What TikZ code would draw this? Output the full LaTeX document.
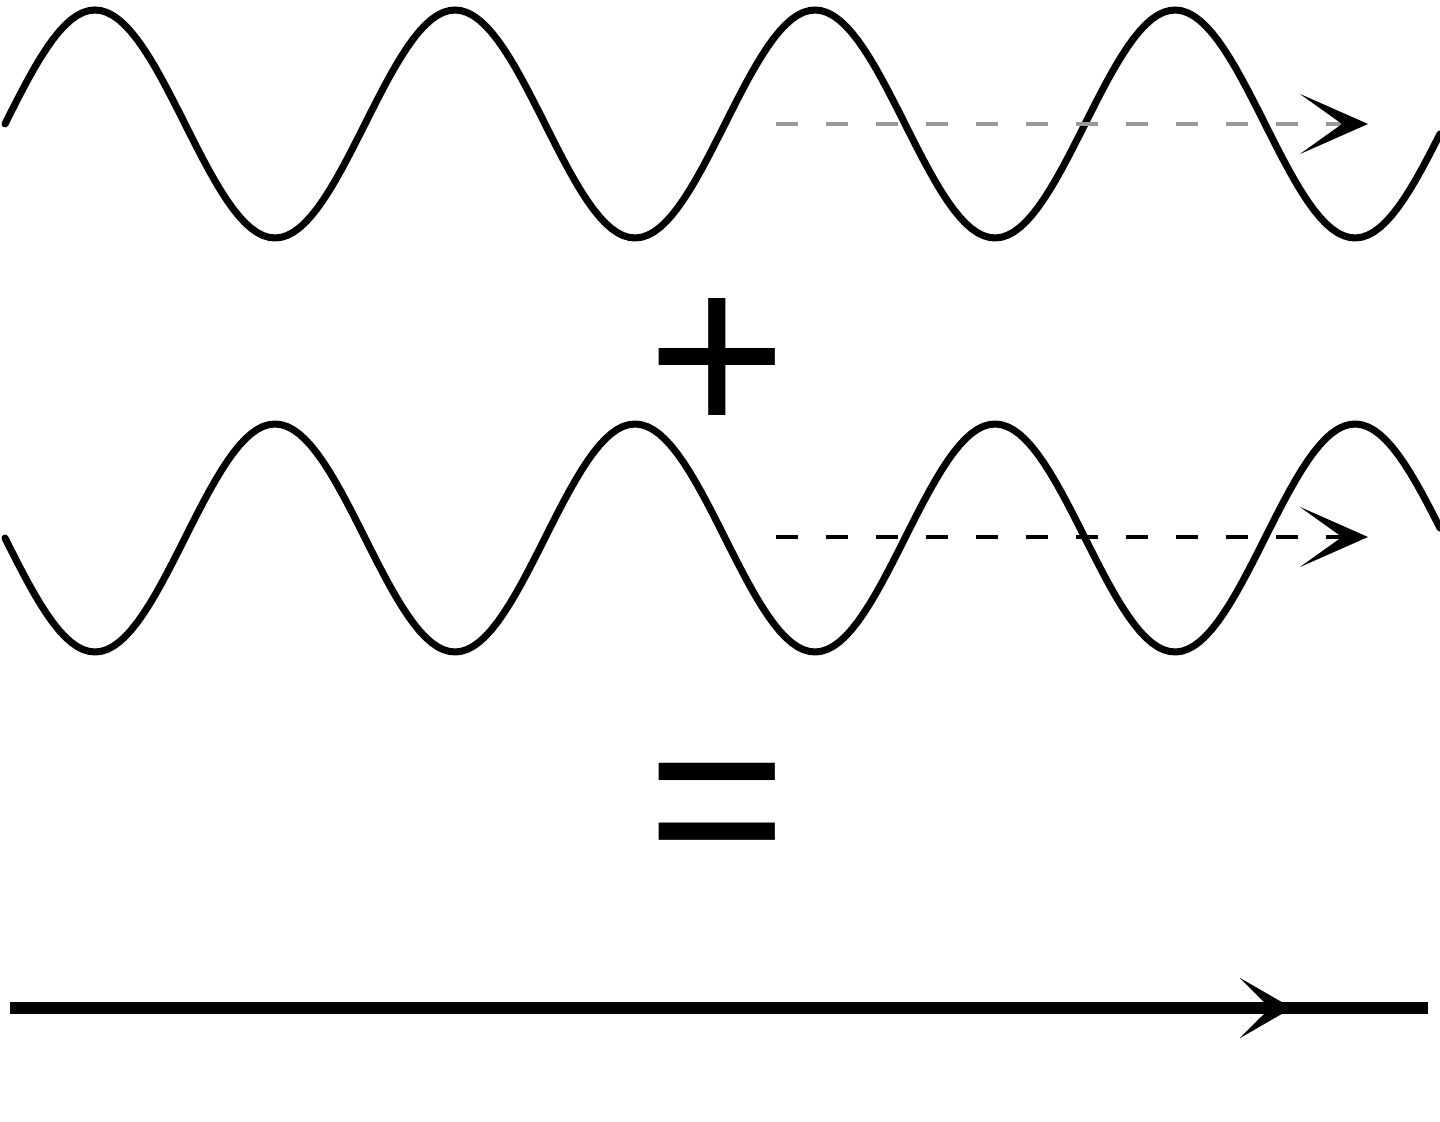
\documentclass[tikz,border=0pt]{standalone}
\usepackage{fontspec}
\setmainfont{Liberation Sans}
\usetikzlibrary{arrows.meta}

\begin{document}
\begin{tikzpicture}
[x=0.01cm,y=-0.01cm,
  waveDecorate/.style={line width=2pt,line join=round,line cap=round},
  flowDecorate/.style={line width=1.4pt,dash pattern=on 0.22cm off 0.28cm,
    -{Stealth[length=0.68cm,width=0.6cm,inset=0.42cm,color=black]}},
  signDecorate/.style={inner sep=0pt,font=\fontsize{68}{68}\selectfont},
  lineDecorate/.style={line width=3.2pt}]
\useasboundingbox (0,0) rectangle (1440,1122);
%% waves
\foreach \yc/\sgn in {124/-1, 538/1}
{
  \draw[waveDecorate] plot[domain=5:1440,samples=240] (\x,{\yc+\sgn*114*sin(\x-5)});
}
%% dashed arrows
\foreach \nodename/\y/\col in {upper/124/black!40, lower/537/black}
{
  \coordinate (\nodename start) at (776,\y);
  \coordinate (\nodename end) at (1368,\y);
  \draw[flowDecorate,\col] (\nodename start) -- (\nodename end);
}
%% signs
\node (plus) at (717,367) [signDecorate] {+};
\node (equals) at (717,822) [signDecorate] {=};
%% bottom arrow
\coordinate (lineStart) at (10,1008);
\coordinate (lineTip) at (1292,1008);
\coordinate (lineEnd) at (1428,1008);
\draw[lineDecorate] (lineStart) -- (lineEnd);
\draw[lineDecorate,-{Stealth[length=0.52cm,width=0.6cm,inset=0.3cm]}] (lineStart) -- (lineTip);
\end{tikzpicture}
\end{document}
